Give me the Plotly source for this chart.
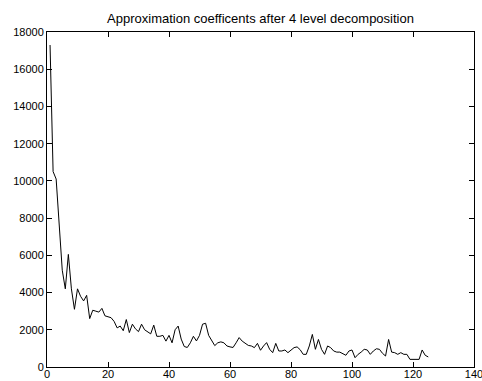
import plotly.graph_objects as go

x_index = list(range(1, 126))
coefficients = [
    17300, 10500, 10100, 7400, 5200, 4200, 6050, 4200, 3100, 4200,
    3800, 3550, 3850, 2600, 3050, 3000, 2950, 3150, 2750, 2700,
    2650, 2450, 2100, 2200, 1950, 2550, 1850, 2300, 2050, 1900,
    2300, 2000, 1880, 1780, 2250, 1650, 1650, 1700, 1390, 1700,
    1300, 2000, 2200, 1500, 1100, 1050, 1300, 1650, 1400, 1700,
    2300, 2350, 1700, 1400, 1150, 1300, 1350, 1300, 1130, 1080,
    1050, 1300, 1580, 1390, 1270, 1160, 1130, 1040, 1270, 900,
    1130, 1310, 950, 770, 1270, 860, 860, 915, 770, 930,
    1040, 1080, 930, 680, 680, 1130, 1750, 950, 1480, 950,
    680, 1130, 1040, 860, 800, 800, 700, 630, 860, 915,
    500, 680, 800, 950, 915, 680, 860, 980, 950, 735,
    590, 1480, 800, 770, 680, 770, 680, 680, 410, 410,
    410, 410, 915, 630, 540,
]
x_ticks = [0, 20, 40, 60, 80, 100, 120, 140]
y_ticks = [0, 2000, 4000, 6000, 8000, 10000, 12000, 14000, 16000, 18000]
title_text = "Approximation coefficents after 4 level decomposition"

fig = go.Figure(go.Scatter(x=x_index, y=coefficients, mode="lines",
                           line=dict(color="black", width=1)))

axis_common = dict(showgrid=False, zeroline=False, showline=True, linecolor="black",
                   linewidth=1, mirror="ticks", ticks="inside", ticklen=5,
                   tickcolor="black", tickwidth=1, ticklabeloverflow="allow",
                   automargin=False,
                   tickfont=dict(family="Liberation Sans, Arial", size=11, color="black"))

fig.update_layout(
    width=482, height=381,
    margin=dict(l=47, r=8, t=32, b=14),
    paper_bgcolor="white", plot_bgcolor="white",
    showlegend=False,
    title=dict(text=title_text, x=0.5, xref="paper", y=1, yref="paper",
               yanchor="bottom", pad=dict(b=9), automargin=False,
               font=dict(family="Liberation Sans, Arial", size=13, color="black")),
    xaxis=dict(range=[0, 140], tickvals=x_ticks, ticktext=[str(v) for v in x_ticks],
               ticklabelstandoff=-3, **axis_common),
    yaxis=dict(range=[0, 18000], tickvals=y_ticks, ticktext=[str(v) for v in y_ticks],
               ticklabelstandoff=0, **axis_common),
)

fig.write_html("out.html")
